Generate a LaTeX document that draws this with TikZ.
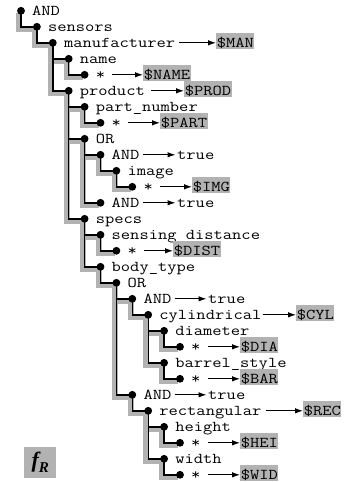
\documentclass[tikz,border=0pt]{standalone}
\usepackage{fontspec}
\setmainfont{Liberation Serif}
\setmonofont[FakeStretch=1.2]{Latin Modern Mono}
\usetikzlibrary{arrows.meta}
\definecolor{greybg}{RGB}{178,178,178}
\pgfdeclarelayer{back}
\pgfsetlayers{back,main}
\begin{document}
\begin{tikzpicture}[x=1pt,y=-1pt,
  dot/.style={circle,fill=black,inner sep=0pt,minimum size=7.8pt},
  lbl/.style={anchor=base west,inner sep=0pt,font=\ttfamily\fontsize{15}{16}\selectfont},
  val/.style={lbl,fill=greybg,inner xsep=0.6pt,text height=14pt,text depth=2pt},
  link/.style={line width=1.4pt},
  halo/.style={draw=greybg,line width=6pt},
  arr/.style={line width=1pt,-{Latex[length=8pt,width=5.5pt]}}]
\useasboundingbox (0,0) rectangle (344,482);

% tree rows: index / depth / label
\foreach \i/\d/\t in {1/0/AND, 2/1/sensors, 3/2/manufacturer, 4/3/name, 5/4/*,
  6/3/product, 7/4/part\_number, 8/5/*, 9/4/OR, 10/5/AND, 11/6/image, 12/7/*,
  13/5/AND, 14/4/specs, 15/5/sensing\_distance, 16/6/*, 17/5/body\_type, 18/6/OR,
  19/7/AND, 20/8/cylindrical, 21/9/diameter, 22/10/*, 23/9/barrel\_style, 24/10/*,
  25/7/AND, 26/8/rectangular, 27/9/height, 28/10/*, 29/9/width, 30/10/*}{
  \node[dot] (n\i) at ({21+15.9*\d},{10.8+16*(\i-1)}) {};
  \node[lbl] (t\i) at ([xshift=11pt,yshift=-4.5pt]n\i.center) {\t};
}

% parent links with their grey shadow
\begin{pgfonlayer}{back}
  \foreach \c/\p in {2/1,3/2,4/3,5/4,6/3,7/6,8/7,9/6,10/9,11/10,12/11,13/9,14/6,
    15/14,16/15,17/14,18/17,19/18,20/19,21/20,22/21,23/20,24/23,25/18,26/25,
    27/26,28/27,29/26,30/29}
    \draw[halo] ([shift={(-1.8,2)}]n\p.center) |- ([shift={(-1.8,2)}]n\c.center);
  \foreach \c/\p in {2/1,3/2,4/3,5/4,6/3,7/6,8/7,9/6,10/9,11/10,12/11,13/9,14/6,
    15/14,16/15,17/14,18/17,19/18,20/19,21/20,22/21,23/20,24/23,25/18,26/25,
    27/26,28/27,29/26,30/29}
    \draw[link] (n\p.center) |- (n\c.center);
\end{pgfonlayer}

% variable bindings
\foreach \i/\x/\g/\v in {3/216/4/\$MAN, 5/143/7/\$NAME, 6/184/6/\$PROD,
  8/160/7/\$PART, 12/192/7/\$IMG, 16/173/7/\$DIST, 20/296/1/\$CYL,
  22/240/7/\$DIA, 24/240/7/\$BAR, 26/303/4/\$REC, 28/240/7/\$HEI, 30/240/7/\$WID}{
  \node[val] (v\i) at (\x,{10.8+16*(\i-1)+4.5}) {\v};
  \draw[arr] ([xshift=\g pt]t\i.east |- n\i.center) -- (v\i.west |- n\i.center);
}

% constant results
\foreach \i/\x/\g in {10/177/3.7, 13/177/3.7, 19/208/3, 25/208/3}{
  \node[lbl] (v\i) at (\x,{10.8+16*(\i-1)+4.5}) {true};
  \draw[arr] ([xshift=\g pt]t\i.east |- n\i.center) -- ([xshift=-1.5pt]v\i.west |- n\i.center);
}

% formula tag
\node[fill=greybg,anchor=north west,minimum width=32pt,minimum height=31pt,inner sep=0pt]
  (fR) at (24,447) {\fontsize{22}{22}\selectfont\bfseries\itshape f\raisebox{-5pt}{\fontsize{15}{15}\selectfont R}};
\end{tikzpicture}
\end{document}
